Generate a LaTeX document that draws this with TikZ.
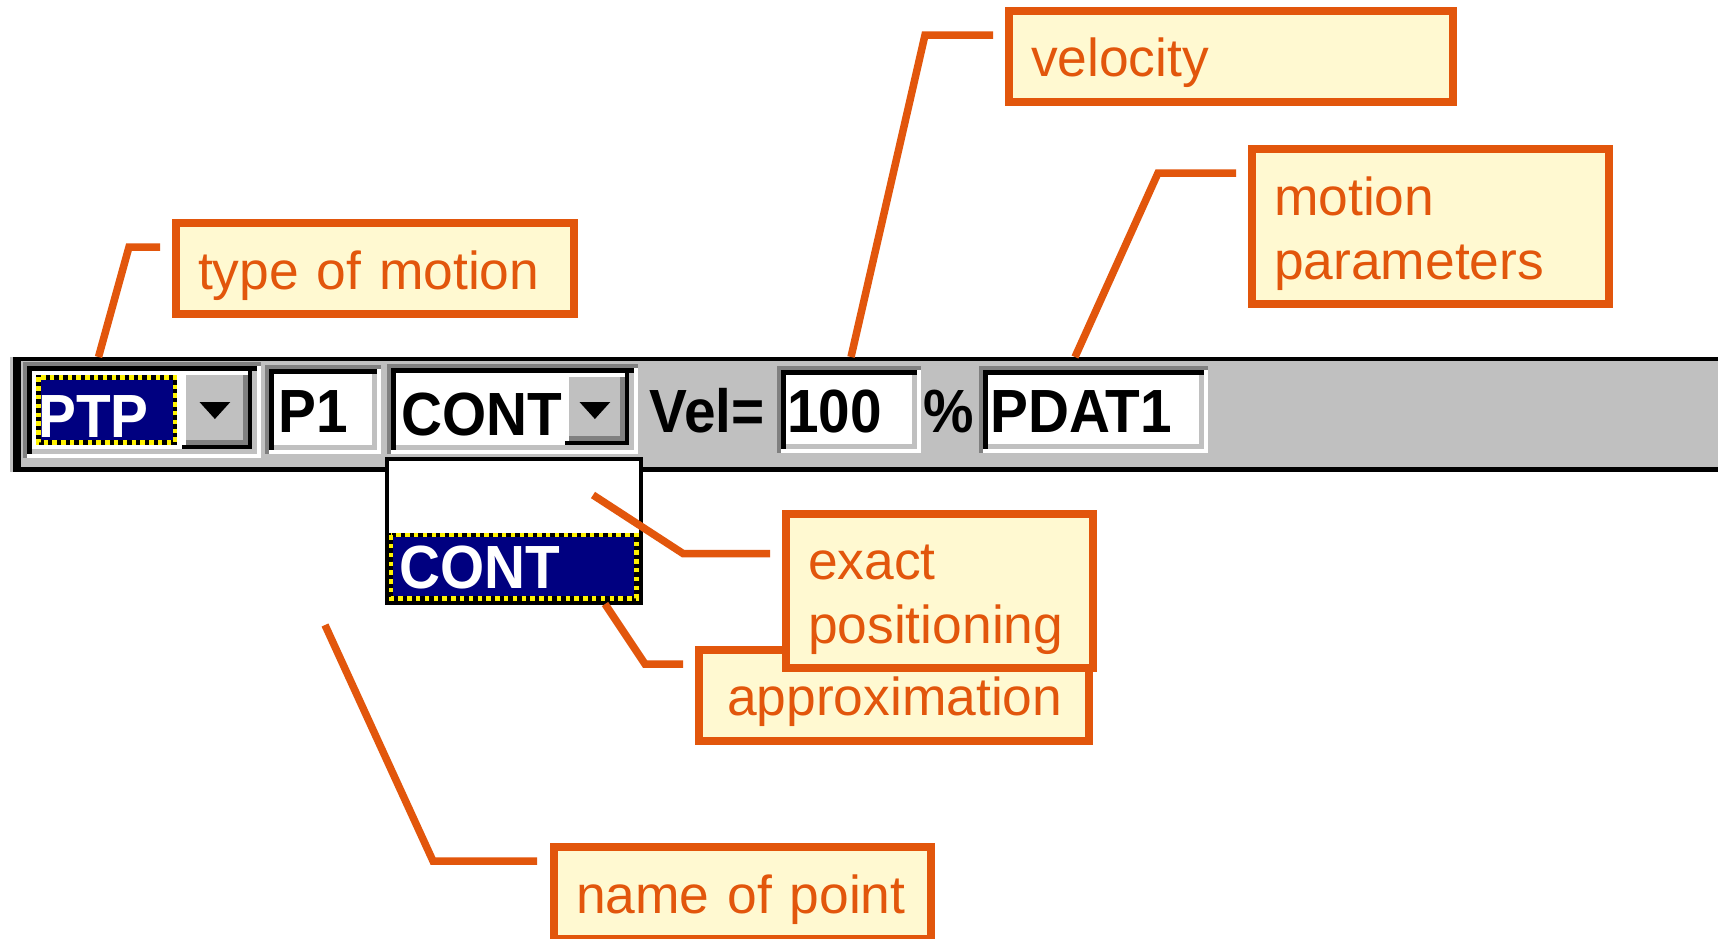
\documentclass[tikz,border=0pt]{standalone}
\usepackage{fontspec}
\setmainfont{Liberation Sans}
\newfontfamily\uifont{Liberation Sans}[FakeStretch=0.93]
\newcommand\callfont{\fontsize{26.7}{32}\selectfont\spaceskip=0.225em\relax}
\definecolor{callorange}{RGB}{226,86,12}
\definecolor{callfill}{RGB}{255,249,209}
\definecolor{winnavy}{RGB}{0,0,128}
\definecolor{wingray}{RGB}{192,192,192}
\definecolor{windark}{RGB}{128,128,128}
\tikzset{
  callout/.style={draw=callorange, line width=4pt, fill=callfill, text=callorange,
    font=\callfont, align=left, inner xsep=11pt, inner ysep=0pt,
    outer sep=0pt, anchor=north west},
  leader/.style={draw=callorange, line width=3.75pt},
  uitext/.style={font=\uifont\bfseries\fontsize{30.5}{36}\selectfont, inner sep=0pt, anchor=base west},
  focusline/.style={line width=2.2pt}
}
\begin{document}
\begin{tikzpicture}[x=0.5pt,y=-0.5pt]
  \fill[white] (0,0) rectangle (1718,938);
  \useasboundingbox (0,0) rectangle (1718,938);
  % toolbar
  \fill[wingray] (10,357) rectangle (1718,472);
  \fill[black] (13,357) rectangle (1718,361);
  \fill[black] (13,467) rectangle (1718,472);
  \fill[black] (13,357) rectangle (21,472);
  % sunken fields
  \foreach \a/\b/\c/\d in {23/362/261/458, 265/365/381/454, 387/364/638/454, 777/366/921/453, 979/366/1208/453}{
    \fill[windark] (\a,\b) rectangle (\c,\d);
    \fill[white] (\a+4.4,\b+4.4) rectangle (\c,\d);
    \fill[black] (\a+4.4,\b+4.4) rectangle (\c-4.4,\d-4.4);
    \fill[wingray] (\a+8.8,\b+8.8) rectangle (\c-4.4,\d-4.4);
    \fill[white] (\a+8.8,\b+8.8) rectangle (\c-8.8,\d-8.8);
  }
  % drop-down buttons
  \foreach \a/\b/\c/\d in {182/370.8/252.2/449.2, 565/372.8/629.2/445.2}{
    \fill[black] (\a,\b) rectangle (\c,\d);
    \fill[white] (\a,\b) rectangle (\c-4.4,\d-4.4);
    \fill[windark] (\a+4.4,\b+4.4) rectangle (\c-4.4,\d-4.4);
    \fill[wingray] (\a+4.4,\b+4.4) rectangle (\c-8.8,\d-8.8);
    \fill[black] ({(\a+\c)/2-17.6},402) -- ({(\a+\c)/2+13.2},402) -- ({(\a+\c)/2-2.2},419) -- cycle;
  }
  % selected type of motion
  \fill[winnavy] (36.2,375.2) rectangle (177,444.8);
  \draw[focusline, black] (38.4,377.4) rectangle (174.8,442.6);
  \draw[focusline, yellow, dash pattern=on 2.2pt off 2.2pt] (38.4,377.4) rectangle (174.8,442.6);
  % drop-down list
  \fill[black] (385,457) rectangle (643,605);
  \fill[white] (389,461.4) rectangle (638.6,533);
  \fill[winnavy] (389,533) rectangle (638.6,600.6);
  \draw[focusline, black] (391.2,535.2) rectangle (636.4,598.4);
  \draw[focusline, yellow, dash pattern=on 2.2pt off 2.2pt] (391.2,535.2) rectangle (636.4,598.4);

  \node[uitext, white] (ptp) at (38,437) {PTP};
  \node[uitext] (pone) at (278,432) {P1};
  \node[uitext] (cont) at (401,435) {CONT};
  \node[uitext] (vel) at (649,432) {Vel=};
  \node[uitext] (hundred) at (787,432) {100};
  \node[uitext] (percent) at (923,432) {\%};
  \node[uitext] (pdat) at (990,432) {PDAT1};
  \node[uitext, white] (contsel) at (399,588) {CONT};

  % leaders
  \coordinate (tomA) at (98.5,357);
  \coordinate (tomB) at (129,247);
  \coordinate (tomC) at (160,247);
  \coordinate (velA) at (851,357);
  \coordinate (velB) at (925,35);
  \coordinate (velC) at (993,35);
  \coordinate (mparA) at (1075,357);
  \coordinate (mparB) at (1158,173);
  \coordinate (mparC) at (1236,173);
  \coordinate (exA) at (593,495);
  \coordinate (exB) at (683,553.5);
  \coordinate (exC) at (770,553.5);
  \coordinate (apA) at (605,604);
  \coordinate (apB) at (645,664);
  \coordinate (apC) at (683,664);
  \coordinate (nopA) at (325,625);
  \coordinate (nopB) at (433,861);
  \coordinate (nopC) at (537,861);
  \draw[leader] (tomA) -- (tomB) -- (tomC);
  \draw[leader] (velA) -- (velB) -- (velC);
  \draw[leader] (mparA) -- (mparB) -- (mparC);
  \draw[leader] (exA) -- (exB) -- (exC);
  \draw[leader] (apA) -- (apB) -- (apC);
  \draw[leader] (nopA) -- (nopB) -- (nopC);

  % callouts
  \node[callout, text width=177pt, text height=33pt, text depth=12.5pt] (tom) at (176,223) {type of motion};
  \node[callout, text width=200pt, text height=32.5pt, text depth=13pt] (velbox) at (1009,11) {velocity};
  \node[callout, text width=156.5pt, text height=33pt, text depth=44.5pt] (mpar) at (1252,149) {motion\\parameters};
  \node[callout, text width=173pt, text height=32.5pt, text depth=13pt] (approx) at (699,650) {\hspace*{3pt}approximation};
  \node[callout, text width=131.5pt, text height=32.5pt, text depth=44.5pt] (expos) at (786,514) {exact\\positioning};
  \node[callout, text width=166.5pt, text height=33pt, text depth=13pt] (nop) at (554,847) {name of point};
\end{tikzpicture}
\end{document}
